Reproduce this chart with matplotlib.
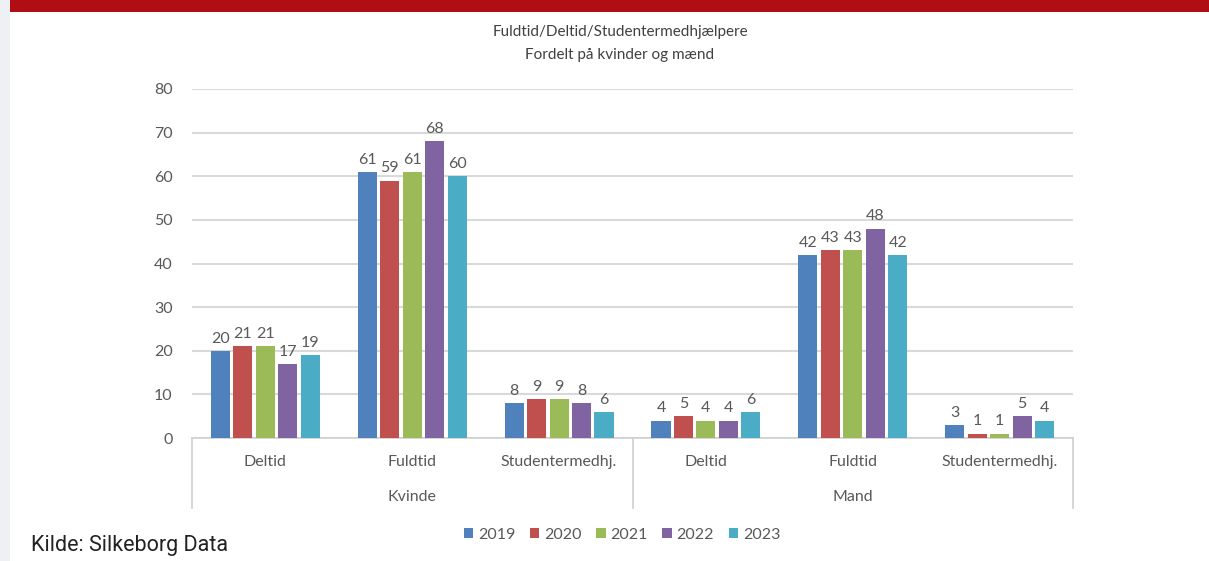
import matplotlib
matplotlib.use("Agg")
import matplotlib.pyplot as plt
from matplotlib.patches import Rectangle, Patch
from matplotlib.transforms import blended_transform_factory

# data
aar = ['2019', '2020', '2021', '2022', '2023']
koen = ['Kvinde', 'Mand']
typer = ['Deltid', 'Fuldtid', 'Studentermedhj.']
v2019 = [20, 61, 8, 4, 42, 3]
v2020 = [21, 59, 9, 5, 43, 1]
v2021 = [21, 61, 9, 4, 43, 1]
v2022 = [17, 68, 8, 4, 48, 5]
v2023 = [19, 60, 6, 6, 42, 4]
serier = [v2019, v2020, v2021, v2022, v2023]
farver = ['#4F81BD', '#C0504D', '#9BBB59', '#8064A2', '#4BACC6']

tekstfarve = '#595959'
plt.rcParams['font.family'] = ['Lato', 'DejaVu Sans']

fig = plt.figure(figsize=(12.09, 5.61), dpi=100)
# side-baggrund: graa strimmel og roed top
fig.patches.append(Rectangle((0, 0), 10 / 1209, 1, transform=fig.transFigure,
                             facecolor='#eef0f3', edgecolor='none'))
fig.patches.append(Rectangle((10 / 1209, 1 - 12 / 561), 1, 12 / 561, transform=fig.transFigure,
                             facecolor='#b00d14', edgecolor='none'))

ax = fig.add_axes([192 / 1209, 1 - 438 / 561, (1073 - 192) / 1209, (438 - 89) / 561])

n_kat = len(koen) * len(typer)
stride = 0.153
bredde = 0.13
for j, (serie, farve) in enumerate(zip(serier, farver)):
    xs = [i + 0.5 + (j - 2) * stride for i in range(n_kat)]
    bars = ax.bar(xs, serie, width=bredde, color=farve, zorder=3)
    for b, v in zip(bars, serie):
        ax.text(b.get_x() + b.get_width() / 2, v + 1.2, str(v), ha='center', va='bottom',
                fontsize=11.5, color=tekstfarve)

ax.set_xlim(0, n_kat)
ax.set_ylim(0, 80)
ax.set_yticks(range(0, 81, 10))
ax.yaxis.grid(True, color='#d9d9d9', linewidth=1.5, zorder=0)
ax.set_axisbelow(True)
for s in ['top', 'right', 'left']:
    ax.spines[s].set_visible(False)
ax.spines['bottom'].set_color('#d0d0d0')
ax.spines['bottom'].set_linewidth(1.2)
ax.tick_params(axis='y', length=0, pad=14, labelsize=11.5, labelcolor=tekstfarve)
ax.set_xticks([])

# kategori- og gruppe-etiketter under aksen
tr = blended_transform_factory(ax.transData, fig.transFigure)
for i in range(n_kat):
    ax.text(i + 0.5, 1 - 462 / 561, typer[i % len(typer)], transform=tr, ha='center', va='center',
            fontsize=11.5, color=tekstfarve)
for g, navn in enumerate(koen):
    ax.text(g * len(typer) + len(typer) / 2, 1 - 497 / 561, navn, transform=tr, ha='center',
            va='center', fontsize=11.5, color=tekstfarve)
for x in [0, len(typer), n_kat]:
    ax.plot([x, x], [1 - 438 / 561, 1 - 508 / 561], transform=tr, color='#d0d0d0',
            linewidth=1.2, clip_on=False)

fig.text(620 / 1209, 1 - 32 / 561, 'Fuldtid/Deltid/Studentermedhjælpere', ha='center', va='center',
         fontsize=11, color='#404040')
fig.text(620 / 1209, 1 - 55 / 561, 'Fordelt på kvinder og mænd', ha='center', va='center',
         fontsize=11, color='#404040')

handles = [Patch(facecolor=f, edgecolor='none') for f in farver]
fig.legend(handles, aar, loc='center', bbox_to_anchor=(622 / 1209, 1 - 535 / 561), ncol=5,
           frameon=False, fontsize=11.5, labelcolor=tekstfarve, handlelength=0.6, handleheight=0.6,
           handletextpad=0.3, columnspacing=0.9)

fig.text(31 / 1209, 1 - 545 / 561, 'Kilde: Silkeborg Data', ha='left', va='center', fontsize=15.5,
         color='#222222', family=['Roboto', 'DejaVu Sans'])

fig.savefig('out.png', dpi=100)
